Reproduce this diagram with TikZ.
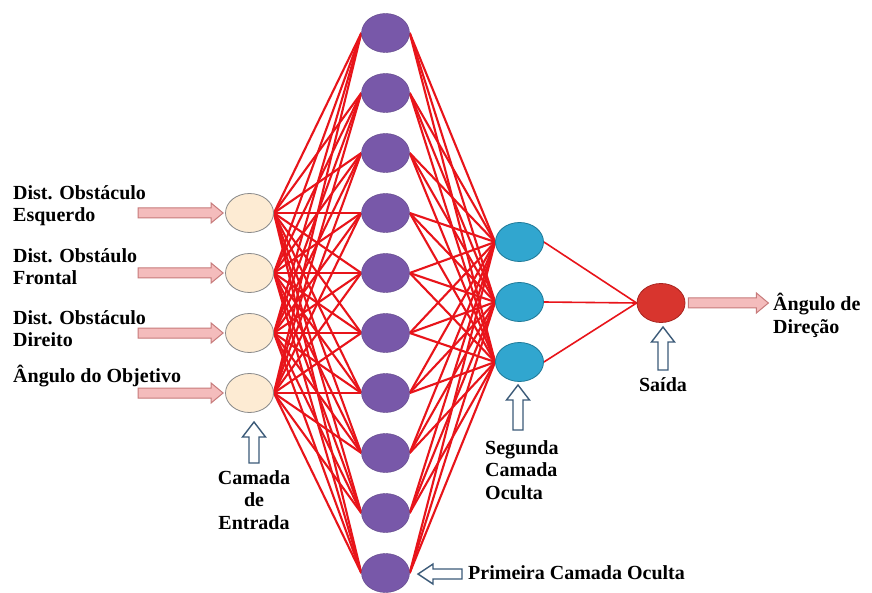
\documentclass[tikz,border=0pt]{standalone}
\usepackage{fontspec}
\setmainfont{Liberation Serif}
\usetikzlibrary{shapes.geometric,backgrounds,calc}
\definecolor{redline}{HTML}{E8141A}
\definecolor{beige}{HTML}{FDEBD3}
\definecolor{beigedraw}{HTML}{8A8A8A}
\definecolor{purp}{HTML}{7858A9}
\definecolor{cyanf}{HTML}{31A6CF}
\definecolor{cyand}{HTML}{1F7A99}
\definecolor{outf}{HTML}{D8352E}
\definecolor{outd}{HTML}{A92520}
\definecolor{pinkf}{HTML}{F4BCBC}
\definecolor{pinkd}{HTML}{C77B7B}
\definecolor{navy}{HTML}{3B5A78}
\begin{document}
\begin{tikzpicture}[x=1pt,y=-1pt,
  neuron/.style={ellipse, minimum width=48pt, minimum height=39pt, inner sep=0pt, line width=0.8pt},
  inp/.style={neuron, fill=beige, draw=beigedraw},
  hidA/.style={neuron, fill=purp, draw=purp!80!black, line width=0.4pt},
  hidB/.style={neuron, fill=cyanf, draw=cyand},
  outn/.style={neuron, fill=outf, draw=outd},
  lbl/.style={font=\bfseries\fontsize{20}{22.5}\selectfont, inner sep=0pt, align=left, anchor=north west},
  lblc/.style={lbl, align=center, anchor=north},
  conn/.style={draw=redline, line width=2.1pt},
  connB/.style={draw=redline, line width=1.6pt},
  pinkarrow/.style={fill=pinkf, draw=pinkd, line width=1pt},
  hollowarrow/.style={fill=white, draw=navy, line width=1.4pt},
  pics/blk/.style n args={5}{code={\path[#5] (0,-#2) -- ({#1-#4},-#2) -- ({#1-#4},-#3) -- (#1,0) -- ({#1-#4},#3) -- ({#1-#4},#2) -- (0,#2) -- cycle;}},
]
\useasboundingbox (0,0) rectangle (872,593);
% first hidden layer
\foreach \j in {1,...,10} {
  \node[hidA] (h\j) at (385.5,{33+60*(\j-1)}) {};
}
% input layer
\foreach \i in {1,...,4} {
  \node[inp] (i\i) at (249.5,{213+60*(\i-1)}) {};
}
% second hidden layer
\foreach \k in {1,...,3} {
  \node[hidB] (s\k) at (519.5,{242+60*(\k-1)}) {};
}
\node[outn] (o) at (661,303) {};
\begin{scope}[on background layer]
  \fill[white] (0,0) rectangle (872,593);
  \foreach \i in {1,...,4} {
    \foreach \j in {1,...,10} {
      \draw[conn] (i\i.east) -- (h\j.west);
    }
  }
  \foreach \j in {1,...,10} {
    \foreach \k in {1,...,3} {
      \draw[conn] (h\j.east) -- (s\k.west);
    }
  }
  \foreach \k in {1,...,3} {
    \draw[connB] (s\k.east) -- (o.west);
  }
\end{scope}
% input arrows
\foreach \i in {1,...,4} {
  \pic at ($(i\i.west)+(-87,0)$) {blk={85}{5}{10}{12}{pinkarrow}};
}
\pic at ($(o.east)+(3,0)$) {blk={80}{5}{10}{12}{pinkarrow}};
% hollow arrows
\pic[rotate=90] at (254,463) {blk={41}{5}{11.5}{15}{hollowarrow}};
\pic[rotate=90] at (518,430) {blk={45}{5}{11.5}{15}{hollowarrow}};
\pic[rotate=90] at (663,370) {blk={43}{5}{11.5}{15}{hollowarrow}};
\pic[rotate=180] at (462,574) {blk={44}{5}{10}{15}{hollowarrow}};
% labels
\node[lbl] (l1) at (13,185) {Dist. Obstáculo\\Esquerdo};
\node[lbl] (l2) at (13,248) {Dist. Obstáulo\\Frontal};
\node[lbl] (l3) at (13,310) {Dist. Obstáculo\\Direito};
\node[lbl] (l4) at (13,365) {Ângulo do Objetivo};
\node[lblc] (lin) at (254,470) {Camada\\de\\Entrada};
\node[lbl] (lsb) at (485,440) {Segunda\\Camada\\Oculta};
\node[lblc] (lout) at (663,377) {Saída};
\node[lbl] (lang) at (773,293) {Ângulo de\\Direção};
\node[lbl, anchor=west] (lpr) at (468,573) {Primeira Camada Oculta};
\end{tikzpicture}
\end{document}
